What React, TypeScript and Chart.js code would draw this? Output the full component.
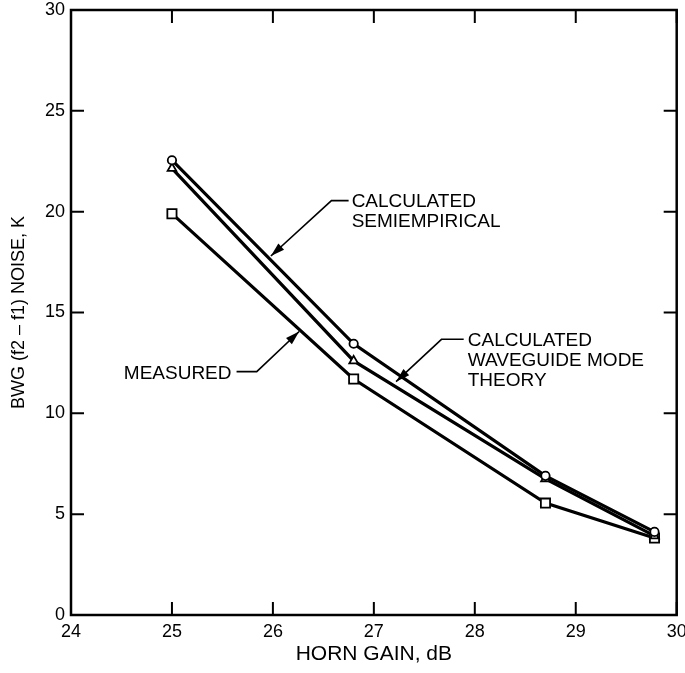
import React, { useEffect, useRef } from "react";
import { Chart, registerables } from "chart.js";

Chart.register(...registerables);

const hornGain = [25.0, 26.8, 28.7, 29.78];
const semiEmpirical = [22.55, 13.45, 6.9, 4.12];
const waveguideTheory = [22.15, 12.6, 6.75, 3.92];
const measured = [19.9, 11.7, 5.55, 3.82];

const xTicks = [24, 25, 26, 27, 28, 29, 30];
const yTicks = [0, 5, 10, 15, 20, 25, 30];

const xTitle = "HORN GAIN, dB";
const yTitle = "BWG (f2 \u2013 f1) NOISE, K";

// annotation callouts in data coordinates
const callouts = [
  {
    lines: ["CALCULATED", "SEMIEMPIRICAL"],
    textX: 26.78, textY: 20.5, align: "left",
    startX: 26.75, elbowX: 26.58, elbowY: 20.55,
    tipX: 25.98, tipY: 17.8,
  },
  {
    lines: ["CALCULATED", "WAVEGUIDE MODE", "THEORY"],
    textX: 27.93, textY: 13.62, align: "left",
    startX: 27.89, elbowX: 27.67, elbowY: 13.67,
    tipX: 27.22, tipY: 11.57,
  },
  {
    lines: ["MEASURED"],
    textX: 25.59, textY: 11.97, align: "right",
    startX: 25.64, elbowX: 25.84, elbowY: 12.07,
    tipX: 26.26, tipY: 14.06,
  },
];

const FONT = "Liberation Sans, Arial, Helvetica, sans-serif";

const framePlugin = {
  id: "frame",
  afterDraw(chart: any) {
    const ctx = chart.ctx;
    const area = chart.chartArea;
    const xs = chart.scales.x;
    const ys = chart.scales.y;
    ctx.save();
    ctx.strokeStyle = "#000";
    ctx.lineWidth = 2.5;
    ctx.strokeRect(area.left, area.top, area.right - area.left, area.bottom - area.top);
    ctx.lineWidth = 2;
    const tl = 13;
    xTicks.forEach((v) => {
      const px = xs.getPixelForValue(v);
      ctx.beginPath();
      ctx.moveTo(px, area.bottom);
      ctx.lineTo(px, area.bottom - tl);
      ctx.moveTo(px, area.top);
      ctx.lineTo(px, area.top + tl);
      ctx.stroke();
    });
    yTicks.forEach((v) => {
      const py = ys.getPixelForValue(v);
      ctx.beginPath();
      ctx.moveTo(area.left, py);
      ctx.lineTo(area.left + tl, py);
      ctx.moveTo(area.right, py);
      ctx.lineTo(area.right - tl, py);
      ctx.stroke();
    });

    // callouts
    ctx.fillStyle = "#000";
    ctx.font = `19px ${FONT}`;
    ctx.textBaseline = "middle";
    callouts.forEach((c) => {
      ctx.textAlign = c.align as CanvasTextAlign;
      const tx = xs.getPixelForValue(c.textX);
      c.lines.forEach((line, i) => {
        const ty = ys.getPixelForValue(c.textY - i);
        ctx.fillText(line, tx, ty);
      });
      const sx = xs.getPixelForValue(c.startX);
      const ex = xs.getPixelForValue(c.elbowX);
      const ey = ys.getPixelForValue(c.elbowY);
      const px = xs.getPixelForValue(c.tipX);
      const py = ys.getPixelForValue(c.tipY);
      ctx.lineWidth = 1.6;
      ctx.beginPath();
      ctx.moveTo(sx, ey);
      ctx.lineTo(ex, ey);
      ctx.lineTo(px, py);
      ctx.stroke();
      const ang = Math.atan2(py - ey, px - ex);
      const len = 14;
      const hw = 4.2;
      const bx = px - Math.cos(ang) * len;
      const by = py - Math.sin(ang) * len;
      ctx.beginPath();
      ctx.moveTo(px, py);
      ctx.lineTo(bx + Math.sin(ang) * hw, by - Math.cos(ang) * hw);
      ctx.lineTo(bx - Math.sin(ang) * hw, by + Math.cos(ang) * hw);
      ctx.closePath();
      ctx.fill();
    });
    ctx.restore();
  },
};

export default function App() {
  const ref = useRef<HTMLCanvasElement | null>(null);
  useEffect(() => {
    if (!ref.current) return;
    const mk = (vals: number[]) => hornGain.map((x, i) => ({ x, y: vals[i] }));
    const common = {
      borderColor: "#000",
      borderWidth: 3.2,
      pointBackgroundColor: "#fff",
      pointBorderColor: "#000",
      pointBorderWidth: 1.8,
      tension: 0,
      fill: false,
    };
    const chart = new Chart(ref.current, {
      type: "line",
      data: {
        datasets: [
          { ...common, label: "Calculated semiempirical", data: mk(semiEmpirical), pointStyle: "circle", pointRadius: 4.2 },
          { ...common, label: "Calculated waveguide mode theory", data: mk(waveguideTheory), pointStyle: "triangle", pointRadius: 5 },
          { ...common, label: "Measured", data: mk(measured), pointStyle: "rect", pointRadius: 6.5 },
        ],
      },
      options: {
        animation: false,
        responsive: true,
        maintainAspectRatio: false,
        layout: { padding: { left: 0, top: 10, right: 6, bottom: 0 } },
        plugins: { legend: { display: false }, tooltip: { enabled: false } },
        scales: {
          x: {
            type: "linear",
            min: 24,
            max: 30,
            afterBuildTicks: (s: any) => { s.ticks = xTicks.map((v) => ({ value: v })); },
            afterFit: (s: any) => { s.height = 58; s.paddingLeft = 0; s.paddingRight = 0; },
            ticks: { color: "#000", font: { size: 18, family: FONT }, padding: 6, maxRotation: 0, autoSkip: false },
            grid: { display: false, drawTicks: false },
            border: { display: false },
            title: { display: true, text: xTitle, color: "#000", font: { size: 21, family: FONT }, padding: { top: 2, bottom: 6 } },
          },
          y: {
            type: "linear",
            min: 0,
            max: 30,
            afterBuildTicks: (s: any) => { s.ticks = yTicks.map((v) => ({ value: v })); },
            afterFit: (s: any) => { s.width = 71; s.paddingTop = 0; s.paddingBottom = 0; },
            ticks: { color: "#000", font: { size: 18, family: FONT }, padding: 6, autoSkip: false },
            grid: { display: false, drawTicks: false },
            border: { display: false },
            title: { display: true, text: yTitle, color: "#000", font: { size: 18, family: FONT }, padding: { top: 8, bottom: 4 } },
          },
        },
      },
      plugins: [framePlugin],
    } as any);
    return () => chart.destroy();
  }, []);
  return (
    <div style={{ position: "fixed", left: 0, top: 0, width: 685, height: 673, background: "#fff" }}>
      <canvas ref={ref} />
    </div>
  );
}
